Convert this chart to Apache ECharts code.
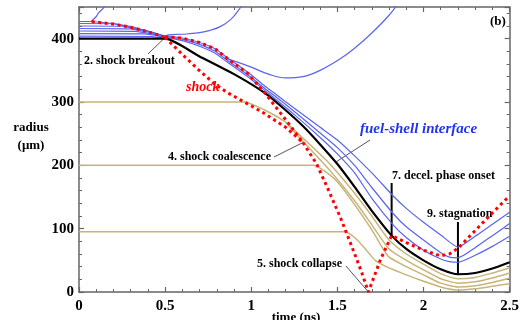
<!DOCTYPE html>
<html><head><meta charset="utf-8">
<script src="https://cdn.jsdelivr.net/npm/echarts@6/dist/echarts.min.js"></script>
<style>html,body{margin:0;padding:0;background:#fff}#c{width:522px;height:320px}</style>
</head><body><div id="c"></div>
<script>
// ---- data (time in ns, radius in um) ----
const xTicks = [0, 0.5, 1, 1.5, 2, 2.5];
const yTicks = [0, 100, 200, 300, 400];

const interfaceLine = [[0,400],[0.5,400],[0.7,372],[0.9,344],[1.08,314],[1.2,287],[1.3,262],[1.4,233],[1.5,202],[1.6,166],[1.7,128],[1.815,89],[1.9,68],[2.0,50],[2.1,36],[2.2,28],[2.3,30],[2.4,37],[2.5,47]];

const shellEarly1 = [[0,427],[0.07,427],[0.2,424],[0.3,419],[0.4,412],[0.5,404]];
const shellEarly2 = [[0,424],[0.2,423.5],[0.3,418.5],[0.4,411.5],[0.5,403.5]];
const shellEarly3 = [[0,420],[0.25,419.5],[0.35,415],[0.45,408],[0.5,403]];
const shellEarly4 = [[0,416],[0.3,415.5],[0.4,411],[0.5,402.5]];
const shellEarly5 = [[0,412],[0.33,411.5],[0.42,408],[0.5,402]];
const shellEarly6 = [[0,408],[0.38,407.5],[0.45,405],[0.5,401.5]];
const shellEarly7 = [[0,404],[0.42,403.5],[0.5,401]];

const shell1 = [[0.5,404],[0.6,401],[0.7,394],[0.79,384],[0.86,370],[0.98,347],[1.08,325],[1.13,315],[1.25,290],[1.4,260],[1.5,240],[1.6,215],[1.7,188],[1.83,150],[1.9,132],[2.0,110],[2.1,90],[2.2,71],[2.3,88],[2.4,107],[2.5,126]];
const shell2 = [[0.5,403],[0.6,399],[0.7,391],[0.79,380],[0.86,366],[0.98,343],[1.08,321],[1.13,311],[1.25,285],[1.4,251],[1.5,228],[1.6,200],[1.7,165],[1.83,122],[1.9,103],[2.0,82],[2.1,62],[2.15,55],[2.2,54],[2.3,70],[2.4,89],[2.5,108]];
const shell3 = [[0.5,402],[0.6,397],[0.7,388],[0.79,377],[0.86,363],[0.98,340],[1.08,318],[1.13,307],[1.25,280],[1.4,244],[1.5,218],[1.6,188],[1.7,148],[1.83,104],[1.9,86],[2.0,66],[2.1,52],[2.15,48],[2.2,47],[2.3,58],[2.4,72],[2.5,88]];

const ablation1 = [[0.07,427],[0.1,435],[0.115,441],[0.14,448],[0.16,456]];
const ablation2 = [[0.5,403],[0.52,406],[0.6,407],[0.69,409],[0.76,413],[0.82,419],[0.88,430],[0.94,450],[0.96,458]];
const ablation3 = [[0.86,368],[0.92,363],[1.0,355],[1.1,344],[1.2,338],[1.3,340],[1.4,350],[1.51,367],[1.6,385],[1.7,409],[1.8,437],[1.87,462]];

const fuel1 = [[0,300],[0.96,300],[1.08,287],[1.2,268],[1.3,243],[1.45,204],[1.6,156],[1.7,120],[1.8,82],[1.9,60],[2.0,44],[2.1,29],[2.2,21],[2.3,23],[2.4,30],[2.5,38]];
const fuel1b = [[1.2,268],[1.3,238],[1.45,194],[1.6,144],[1.7,106],[1.8,68],[1.9,50],[2.0,35],[2.1,21],[2.2,14],[2.3,16],[2.4,22],[2.5,30]];
const fuel2 = [[0,200],[1.36,200],[1.42,192],[1.5,174],[1.6,138],[1.7,98],[1.77,66],[1.8,55],[1.9,40],[2.0,27],[2.1,14],[2.2,8],[2.3,10],[2.4,15],[2.5,22]];
const fuel3 = [[0,95],[1.545,95],[1.6,86],[1.65,72],[1.72,50],[1.8,38],[1.9,27],[2.0,17],[2.1,8],[2.2,3],[2.3,5],[2.4,9],[2.5,13]];

const shockTop = [[0.074,427],[0.2,423],[0.3,418],[0.4,411],[0.5,402]];
const shockA = [[0.5,402],[0.6,375],[0.69,352],[0.78,330],[0.86,315],[0.96,300],[1.07,283],[1.2,260],[1.3,236]];
const shockB = [[0.5,403],[0.6,401],[0.7,394],[0.79,384],[0.86,369],[0.98,345],[1.08,314],[1.2,272],[1.3,236]];
const shockC = [[1.3,236],[1.38,202],[1.45,160],[1.52,116],[1.585,71],[1.64,32],[1.68,0],[1.75,51],[1.815,89],[1.9,78],[2.0,66],[2.1,57],[2.15,60],[2.2,69],[2.3,97],[2.4,125],[2.5,152]];

// annotation anchor points (data coords)
const breakoutPt = [0.5, 402];
const coalescePt = [1.3, 236];
const interfacePt = [1.49, 205];
const collapsePt = [1.68, 0];
const decelPt = [1.815, 89];
const stagPt = [2.2, 28];

// ---- chart ----
const FONT = 'Liberation Serif';
const BLUE = '#5a64f0', GOLD = '#c8b478', AX = '#666';
const chart = echarts.init(document.getElementById('c'));

function line(data, color, width, extra) {
  return Object.assign({type:'line', data, showSymbol:false, symbol:'none', silent:true, animation:false,
    lineStyle:{color, width}, clip:true}, extra||{});
}
const series = [];
[shellEarly1,shellEarly2,shellEarly3,shellEarly4,shellEarly5,shellEarly6,shellEarly7].forEach(d=>series.push(line(d,BLUE,1.1)));
[ablation1,ablation2,ablation3].forEach(d=>series.push(line(d,BLUE,1.2,{smooth:0.4})));
[fuel1,fuel1b,fuel2,fuel3].forEach(d=>series.push(line(d,GOLD,1.5,{smooth:0.2})));
[shell1,shell2,shell3].forEach(d=>series.push(line(d,BLUE,1.2,{smooth:0.2})));
series.push(line(interfaceLine,'#000',2.2,{smooth:0.2}));
[shockTop,shockA,shockB,shockC].forEach(d=>series.push(line(d,'#ff0000',3,{lineStyle:{color:'#ff0000',width:3,type:[3,3.5],cap:'butt'}})));

const axCommon = {
  axisLine:{onZero:false, lineStyle:{color:AX, width:1.5}},
  axisTick:{inside:true, length:5, lineStyle:{color:AX, width:1.2}},
  minorTick:{show:true, splitNumber:5, length:3, lineStyle:{color:AX, width:1}},
  splitLine:{show:false}
};
const lbl = {fontFamily:FONT, fontWeight:'bold', fontSize:15, color:'#000'};

chart.setOption({
  animation:false,
  grid:{left:79, right:5, top:7, bottom:28},
  xAxis:[
    Object.assign({type:'value', min:xTicks[0], max:xTicks[xTicks.length-1], interval:0.5, position:'bottom',
      axisLabel:Object.assign({margin:7, formatter:v=>xTicks.includes(v)?String(v):''}, lbl)}, axCommon),
    Object.assign({type:'value', min:0, max:2.5, interval:0.5, position:'top', axisLabel:{show:false}}, axCommon)
  ],
  yAxis:[
    Object.assign({type:'value', min:0, max:450, interval:100, position:'left',
      axisLabel:Object.assign({margin:5, formatter:v=>yTicks.includes(v)?String(v):''}, lbl)}, axCommon),
    Object.assign({type:'value', min:0, max:450, interval:100, position:'right', axisLabel:{show:false}}, axCommon)
  ],
  series
});

const P = p => chart.convertToPixel({xAxisIndex:0, yAxisIndex:0}, p);
const txt = (text, x, y, o) => ({type:'text', x, y, silent:true, style:Object.assign({text, fontFamily:FONT, fontWeight:'bold', fontSize:12, fill:'#000', textAlign:'left', textVerticalAlign:'middle'}, o||{})});
const seg = (a, b, color, w) => ({type:'line', silent:true, shape:{x1:a[0],y1:a[1],x2:b[0],y2:b[1]}, style:{stroke:color, lineWidth:w}});

const bp = P(breakoutPt), cp = P(coalescePt), ip = P(interfacePt), clp = P(collapsePt), dp = P(decelPt), sp = P(stagPt);
chart.setOption({graphic:[
  txt('2. shock breakout', 84, 61),
  seg([148,54], bp, '#555', 1),
  txt('shock', 186, 87, {fill:'#ff0000', fontStyle:'italic', fontSize:14}),
  txt('fuel-shell interface', 360, 129, {fill:'#2233ee', fontStyle:'italic', fontSize:15}),
  seg([370,140], ip, '#555', 1),
  txt('4. shock coalescence', 168, 157),
  seg([274,157], cp, '#555', 1),
  txt('5. shock collapse', 257, 264),
  seg([346,266], clp, '#555', 1),
  txt('7. decel. phase onset', 392, 176),
  seg([dp[0],183], dp, '#000', 2),
  txt('9. stagnation', 427, 214),
  seg([sp[0],222], sp, '#000', 2),
  txt('(b)', 490, 22, {fontSize:13}),
  txt('radius', 31, 128, {fontSize:13, textAlign:'center'}),
  txt('(μm)', 31, 146, {fontSize:13, textAlign:'center'}),
  txt('time (ns)', 296, 311, {fontSize:13, textAlign:'center', textVerticalAlign:'top'})
]});
</script></body></html>
